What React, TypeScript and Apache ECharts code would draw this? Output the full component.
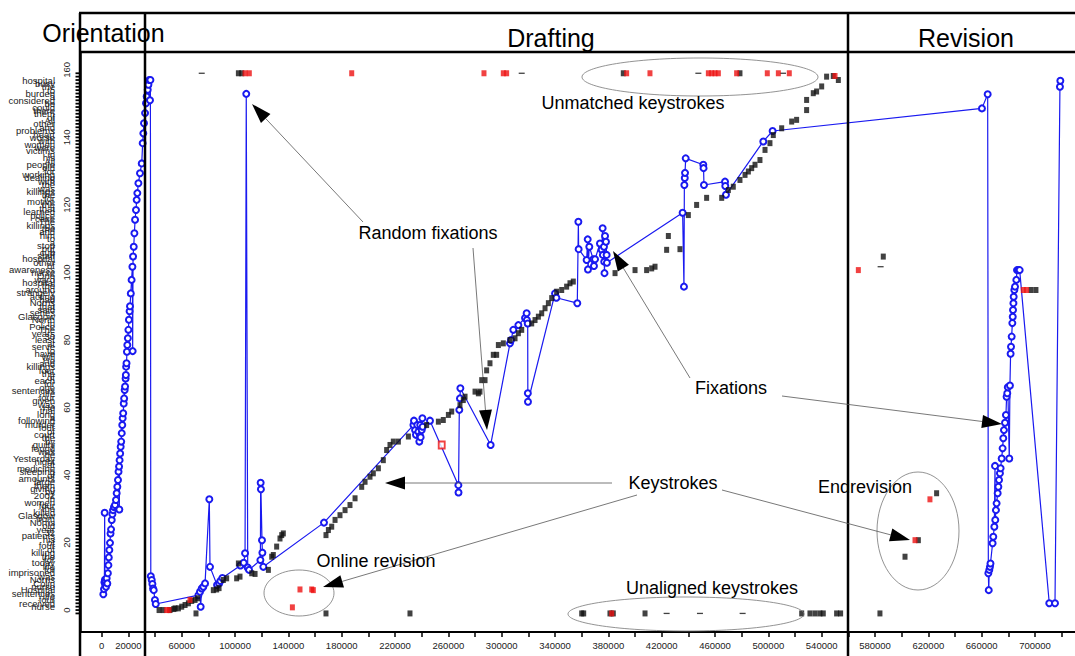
import React, { useEffect, useRef } from 'react';
import * as echarts from 'echarts';

const X_MIN = -16300;
const X_MAX = 730000;
const Y_MIN = -6.5;
const Y_MAX = 165.3;
const GRID_LEFT = 80;
const GRID_TOP = 52;
const GRID_W = 995;
const GRID_H = 580;

const words = [
  'Killer', 'nurse', 'received', 'four', 'life', 'sentences', 'Hospital', 'nurse', 'Colin', 'Norris',
  'was', 'imprisoned', 'for', 'life', 'today', 'for', 'the', 'killing', 'of', 'four',
  'of', 'his', 'patients', '32', 'year', 'old', 'Norris', 'from', 'Glasgow', 'killed',
  'the', 'four', 'women', 'in', '2002', 'by', 'giving', 'them', 'large', 'amounts',
  'of', 'sleeping', 'medicine', 'at', 'night', 'Yesterday', 'he', 'was', 'found', 'guilty',
  'by', 'the', 'court', 'of', 'four', 'murder', 'following', 'a', 'long', 'trial',
  'He', 'was', 'given', 'four', 'life', 'sentences', 'one', 'for', 'each', 'of',
  'the', 'four', 'killings', 'and', 'He', 'will', 'have', 'to', 'serve', 'at',
  'least', '30', 'years', 'The', 'Police', 'in', 'North', 'Glasgow', 'series', 'said',
  'that', 'Norris', 'had', 'acting', 'strangely', 'around', 'the', 'hospital', 'ward', 'One',
  'nurse', 'awareness', 'of', 'other', 'hospital', 'staff', 'cup', 'put', 'stop', 'a',
  'to', 'him', 'and', 'the', 'killings', 'The', 'case', 'police', 'learned', 'that',
  'the', 'motive', 'for', 'the', 'killings', 'was', 'the', 'with', 'dealing', 'working',
  'for', 'old', 'people', 'All', 'his', 'in', 'victims', 'were', 'women', 'with',
  'worse', 'heart', 'problems', 'and', 'other', 'All', 'of', 'them', 'there', 'could',
  'be', 'considered', 'a', 'burden', 'to', 'the', 'busy', 'hospital', 'staff'
];

const xTickValues = [0, 20000, 40000, 60000, 80000, 100000, 120000, 140000, 160000, 180000, 200000,
  220000, 240000, 260000, 280000, 300000, 320000, 340000, 360000, 380000, 400000, 420000, 440000,
  460000, 480000, 500000, 520000, 540000, 560000, 580000, 600000, 620000, 640000, 660000, 680000,
  700000, 720000];
const xLabelValues = [0, 20000, 60000, 100000, 140000, 180000, 220000, 260000, 300000, 340000,
  380000, 420000, 460000, 500000, 540000, 580000, 620000, 660000, 700000];
const yLabelValues = [0, 20, 40, 60, 80, 100, 120, 140, 160];

const orientationFixations = [
  [1200, 4.7], [1700, 6.2], [2000, 8.2], [2200, 28.8], [2400, 9], [2600, 7.4], [3000, 8.5], [3200, 6.9],
  [3700, 9.4], [4200, 7.9], [4600, 10.9], [5000, 13.3], [5300, 15.6], [5700, 17.8], [6200, 19.9],
  [6600, 22.7], [7000, 23.9], [7500, 26.7], [8000, 28.4], [8500, 29.6], [9200, 30.5], [10000, 31.1],
  [10700, 32.6], [11200, 34.6], [11700, 36.5], [12200, 38.5], [12600, 41], [13000, 42.5], [13200, 29.8],
  [13400, 44.4], [13800, 46.4], [14200, 48.4], [14600, 49.9], [15000, 52.4], [15400, 54.8], [15700, 56.8],
  [16100, 58.3], [16500, 61.2], [16800, 62.7], [17200, 65.2], [17500, 66.2], [17900, 68.6], [18100, 69.6],
  [18300, 72.1], [18600, 73.1], [18900, 76.5], [19200, 78.5], [19600, 80.5], [20000, 83], [20400, 86],
  [20900, 88.5], [21200, 90], [21800, 93.8], [22400, 97.8], [23000, 101.7], [23200, 76.7], [23500, 104.7],
  [24000, 107.6], [24500, 111.6], [25000, 115.6], [25700, 118.5], [26200, 121.5], [26700, 123.5],
  [27500, 126.4], [28700, 129.4], [30000, 132.3], [30700, 138.3], [31200, 141.2], [31700, 144.2],
  [32500, 147.2], [33200, 150.1], [33700, 152.1], [34500, 154.1], [35000, 155.6], [35700, 157],
  [36200, 151], [36500, 157]
];

const draftingFixations = [
  [36800, 10], [37500, 8.9], [38000, 7.7], [38500, 6.4], [39000, 5.9], [39900, 3], [40500, 1.8],
  [72500, 4.4], [73700, 5.4], [74200, 1], [75000, 6.4], [76200, 6.9], [77500, 7.9], [80700, 32.8],
  [81200, 12.8], [86500, 7.4], [88000, 7.9], [89000, 8.6], [90500, 9.5], [104000, 13.2], [106500, 14],
  [107500, 16.8], [108400, 152.9], [109500, 12.6], [110500, 11.9], [119000, 14.8], [119200, 37.7],
  [119400, 35.8], [120200, 20.7], [120500, 17], [121200, 12.8], [166700, 25.9], [233800, 54.8],
  [234200, 56.1], [235000, 53.3], [235700, 51.9], [236700, 54.8], [237500, 52.8], [238200, 49.9],
  [238700, 51.6], [238900, 54.8], [239200, 51.2], [240000, 53.3], [240500, 56.8], [240700, 54.3],
  [246200, 56.1], [267500, 37], [267600, 34.8], [268200, 59.3], [268700, 62.7], [269000, 65.7],
  [291700, 48.9], [306200, 79], [307000, 80], [308700, 83], [312500, 84.4], [317500, 86.5],
  [318700, 87.9], [318900, 85.9], [319500, 84.9], [319600, 64.2], [319700, 61.7], [340000, 93.8],
  [341000, 92.5], [356700, 90.9], [357500, 115], [357700, 106.9], [363700, 103.7], [364500, 109.8],
  [364700, 100.9], [365700, 107.6], [368700, 103.9], [369200, 101.9], [370000, 103.9], [373700, 108.6],
  [375000, 106.7], [375700, 113.1], [375900, 105.2], [376700, 107.6], [376900, 103.2], [377100, 99.8],
  [377500, 110.8], [378200, 109.1], [378700, 105.2], [378900, 102.9], [435700, 117.7], [436700, 95.8],
  [437000, 125.9], [437300, 128], [437500, 129.5], [438000, 133.8], [451200, 131.9], [451400, 130.9],
  [451700, 125.9], [467500, 126.9], [467700, 125.6], [468200, 123], [496200, 138.8], [503200, 141.9]
];

const revisionFixations = [
  [660200, 148.6], [664500, 152.8], [665000, 10.9], [665300, 5.9], [665700, 11.9], [666200, 12.8],
  [666600, 13.8], [668200, 19.8], [668700, 21.7], [669500, 24.7], [670000, 42.7], [670200, 26.7],
  [670700, 29.6], [671200, 31.6], [672000, 34.6], [672500, 36.5], [673000, 38.5], [673700, 40.5],
  [674200, 42], [675000, 44.9], [675700, 47.9], [676200, 50.9], [676700, 53.3], [677500, 55.5],
  [678200, 57.8], [678700, 63.2], [679200, 64.2], [679600, 66], [680700, 44.9], [681200, 66.5],
  [681700, 75.9], [682000, 78], [682500, 81], [683000, 85], [683300, 86.9], [683500, 88.9],
  [683800, 90.9], [684000, 92.8], [684500, 94.8], [685000, 95.8], [686000, 97.8], [686500, 100.7],
  [687500, 100.7], [688500, 100.7], [710700, 2], [715000, 2], [718700, 155], [719000, 156.8]
];

const keystrokes = [
  [43000, 0], [46000, 0], [51200, 0], [54000, 0.3], [55000, 0.5], [57500, 0.5], [60000, 1], [62500, 1.5],
  [65000, 2], [67500, 2.7], [70000, 3], [72000, 3.5], [83700, 5.9], [86200, 6.1], [88000, 6.5],
  [91200, 8.9], [93700, 9.4], [101200, 9.4], [102500, 13.8], [103700, 9.9], [112500, 10.9],
  [115000, 10.7], [125000, 11.9], [127500, 15.8], [128700, 16.3], [131200, 18.8], [133700, 21.2],
  [135000, 22.2], [136200, 22.7], [168200, 22.2], [170000, 23.7], [172500, 24.7], [175000, 26.7],
  [178700, 28.1], [182500, 29.6], [186200, 31.1], [190000, 33.1], [195000, 36.5], [197500, 38],
  [201200, 39.5], [203700, 40.5], [207500, 42], [211200, 44.4], [213700, 47.4], [216200, 48.9],
  [218700, 49.9], [222500, 49.9], [230000, 51.4], [243700, 54.8], [252500, 55.8], [256200, 56.3],
  [260000, 57.8], [262500, 58.8], [268700, 60.7], [271200, 62.2], [272500, 63.2], [280000, 64.7],
  [282500, 64.2], [283700, 64.7], [285000, 68.1], [287500, 68.1], [288700, 71], [291200, 73.1],
  [293700, 75.6], [296200, 75.6], [297500, 78.5], [301200, 79], [306200, 80], [310000, 80.5],
  [312500, 82], [315000, 83], [322500, 84.9], [325000, 85.9], [327500, 86.9], [330000, 87.9],
  [332500, 89.4], [335000, 90.9], [337500, 92.4], [341200, 94.3], [345000, 94.8], [348700, 95.8],
  [351200, 96.8], [353700, 97.3], [385000, 99.8], [400000, 100.7], [408700, 100.7], [412500, 101.2],
  [415000, 101.7], [423700, 106.7], [425000, 110.8], [433700, 106.9], [440000, 117], [446200, 120],
  [453700, 122.1], [465000, 122.1], [470000, 124.4], [473700, 125.4], [478700, 127.4], [482500, 128.9],
  [485000, 129.9], [487500, 130.9], [490000, 131.9], [493700, 133.3], [497500, 136.3], [501200, 138.3],
  [503700, 140.7], [510000, 142.7], [517500, 144.7], [521200, 145.2], [528700, 148.1], [528700, 151.1],
  [533700, 153.1], [536200, 153.6], [540000, 155.1], [543700, 158], [548700, 158.2], [552500, 157],
  [586200, 104.7], [602500, 15.8], [612500, 20.7], [626200, 34.6], [697000, 94.8], [700700, 94.8]
];

const revisedKeystrokes = [
  [48700, 0], [50500, 0], [66200, 3], [143000, 0.8], [148700, 6.1], [157500, 6.1], [158700, 5.9],
  [550000, 158.2], [567500, 100.7], [610000, 20.7], [621200, 32.8], [691200, 94.8], [693700, 94.8]
];
const editedKeystrokes = [[255000, 48.9]];

const unmatchedRow = 159;
const unmatchedRedX = [107500, 110700, 187500, 286700, 301200, 303700, 393700, 411200, 455000, 457500,
  460000, 462500, 476200, 499200, 507500, 515700];
const unmatchedBlackX = [102500, 105000, 391200, 478700];

const unalignedRow = -1;
const unalignedBlackX = [70700, 168200, 231200, 360000, 361500, 381200, 383700, 407500, 525000, 531200,
  535000, 538700, 541200, 551200, 554200, 583700];
const unalignedRedX = [382500];

const dashKeys = [[75000, 159], [315000, 159], [447500, 159], [423700, -1], [448700, -1], [480700, -1],
  [584200, 101.7], [511000, 159]];

const FONT = '"Liberation Sans", Arial, sans-serif';

function yToPixel(v: number) {
  return GRID_TOP + ((Y_MAX - v) / (Y_MAX - Y_MIN)) * GRID_H;
}

function arrow(x1: number, y1: number, x2: number, y2: number) {
  const dx = x2 - x1, dy = y2 - y1;
  const len = Math.hypot(dx, dy);
  const ux = dx / len, uy = dy / len;
  const L = 20, W = 13;
  const bx = x2 - ux * L, by = y2 - uy * L;
  return [
    { type: 'line', z: 100, shape: { x1, y1, x2: bx, y2: by }, style: { stroke: '#555', lineWidth: 0.8 } },
    {
      type: 'polygon', z: 100,
      shape: { points: [[x2, y2], [bx - uy * W / 2, by + ux * W / 2], [bx + uy * W / 2, by - ux * W / 2]] },
      style: { fill: '#000' }
    }
  ];
}

function frameLine(x1: number, y1: number, x2: number, y2: number) {
  return { type: 'line', z: 90, shape: { x1, y1, x2, y2 }, style: { stroke: '#000', lineWidth: 2.5 } };
}

function label(text: string, x: number, y: number, size: number) {
  return {
    type: 'text', z: 110, x, y,
    style: { text, fontSize: size, fontFamily: FONT, fill: '#000', align: 'center', verticalAlign: 'middle' }
  };
}

function ellipse(cx: number, cy: number, rx: number, ry: number) {
  return { type: 'ellipse', z: 95, shape: { cx, cy, rx, ry }, style: { fill: 'none', stroke: '#777', lineWidth: 0.8 } };
}

export default function App() {
  const ref = useRef<HTMLDivElement>(null);
  useEffect(() => {
    if (!ref.current) return;
    const chart = echarts.init(ref.current, undefined, { renderer: 'svg' });
    const fixations = [...orientationFixations, ...draftingFixations, ...revisionFixations];
    const wordIdx = words.map((_, i) => i);
    const tickValues = [unalignedRow, ...wordIdx, unmatchedRow];
    const tickLines = tickValues.map((v) => {
      const py = yToPixel(v);
      return {
        type: 'line', z: 92,
        shape: { x1: 75.5, y1: py, x2: 81, y2: py },
        style: { stroke: '#000', lineWidth: 1.8 }
      };
    });
    const option = {
      animation: false,
      backgroundColor: '#fff',
      grid: { left: GRID_LEFT, top: GRID_TOP, width: GRID_W, height: GRID_H },
      xAxis: {
        type: 'value', min: X_MIN, max: X_MAX,
        axisLine: { show: true, onZero: false, lineStyle: { color: '#000', width: 2 } },
        axisTick: { show: true, customValues: xTickValues, length: 5, lineStyle: { color: '#000', width: 1.5 } },
        axisLabel: {
          customValues: xLabelValues, fontSize: 9.5, color: '#222', margin: 8, fontFamily: FONT,
          formatter: (v: number) => String(Math.round(v))
        },
        splitLine: { show: false }
      },
      yAxis: [
        {
          type: 'value', min: Y_MIN, max: Y_MAX, position: 'left',
          axisLine: { show: true, onZero: false, lineStyle: { color: '#000', width: 2.5 } },
          axisTick: { show: false },
          axisLabel: {
            customValues: yLabelValues, rotate: 90, fontSize: 9.5, color: '#222', margin: 9, fontFamily: FONT,
            formatter: (v: number) => String(Math.round(v))
          },
          splitLine: { show: false }
        },
        {
          type: 'value', min: Y_MIN, max: Y_MAX, position: 'left',
          axisLine: { show: false, onZero: false },
          axisTick: { show: false },
          axisLabel: {
            customValues: wordIdx, fontSize: 9.5, color: '#222', margin: 25, fontFamily: FONT,
            formatter: (v: number) => words[Math.round(v)] ?? ''
          },
          splitLine: { show: false }
        }
      ],
      series: [
        {
          name: 'Fixations', type: 'line', data: fixations, symbol: 'emptyCircle', symbolSize: 6,
          itemStyle: { color: '#1a1af0', borderWidth: 1.2 },
          lineStyle: { color: '#1a1af0', width: 1.2 }, z: 3
        },
        {
          name: 'Keystrokes', type: 'scatter', data: keystrokes, symbol: 'rect', symbolSize: [5, 6],
          itemStyle: { color: '#111' }, z: 4
        },
        {
          name: 'Revised', type: 'scatter', data: revisedKeystrokes, symbol: 'rect', symbolSize: [5, 6],
          itemStyle: { color: '#ee1111' }, z: 5
        },
        {
          name: 'Edited', type: 'scatter', data: editedKeystrokes, symbol: 'emptyRect', symbolSize: [6, 7],
          itemStyle: { color: '#ee1111', borderWidth: 1 }, z: 5
        },
        {
          name: 'Unmatched', type: 'scatter', data: unmatchedRedX.map((x) => [x, unmatchedRow]),
          symbol: 'rect', symbolSize: [5, 6], itemStyle: { color: '#ee1111' }, z: 5
        },
        {
          name: 'UnmatchedBlack', type: 'scatter', data: unmatchedBlackX.map((x) => [x, unmatchedRow]),
          symbol: 'rect', symbolSize: [5, 6], itemStyle: { color: '#111' }, z: 4
        },
        {
          name: 'Unaligned', type: 'scatter', data: unalignedBlackX.map((x) => [x, unalignedRow]),
          symbol: 'rect', symbolSize: [5, 6], itemStyle: { color: '#111' }, z: 4
        },
        {
          name: 'UnalignedRed', type: 'scatter', data: unalignedRedX.map((x) => [x, unalignedRow]),
          symbol: 'rect', symbolSize: [5, 6], itemStyle: { color: '#ee1111' }, z: 5
        },
        {
          name: 'Dashes', type: 'scatter', data: dashKeys, symbol: 'rect', symbolSize: [6, 1.3],
          itemStyle: { color: '#111' }, z: 4
        }
      ],
      graphic: [
        frameLine(80, 13, 80, 656),
        frameLine(145, 13, 145, 656),
        frameLine(848, 13, 848, 656),
        frameLine(79, 13, 1075, 13),
        frameLine(79, 52, 1075, 52),
        ...tickLines,
        label('Orientation', 103.5, 33, 25),
        label('Drafting', 551, 38, 25),
        label('Revision', 966, 38, 25),
        label('Unmatched keystrokes', 633, 103, 18),
        label('Random fixations', 428, 233, 18),
        label('Fixations', 731, 388, 18),
        label('Keystrokes', 673, 483, 18),
        label('Endrevision', 865, 487, 18),
        label('Online revision', 376, 561, 18),
        label('Unaligned keystrokes', 712, 588, 18),
        ellipse(700, 77, 118, 19),
        ellipse(686, 614, 118, 17),
        ellipse(299, 593, 35, 23),
        ellipse(918, 531, 41, 59),
        ...arrow(363, 222, 252, 104),
        ...arrow(473, 248, 487, 430),
        ...arrow(690, 378, 613, 251),
        ...arrow(782, 396, 1002, 424),
        ...arrow(612, 483, 385, 483),
        ...arrow(637, 495, 323, 587),
        ...arrow(722, 490, 910, 540)
      ]
    };
    chart.setOption(option as any);
    return () => chart.dispose();
  }, []);
  return (
    <div
      ref={ref}
      style={{ position: 'absolute', left: 0, top: 0, width: 1075, height: 656, background: '#fff' }}
    />
  );
}
